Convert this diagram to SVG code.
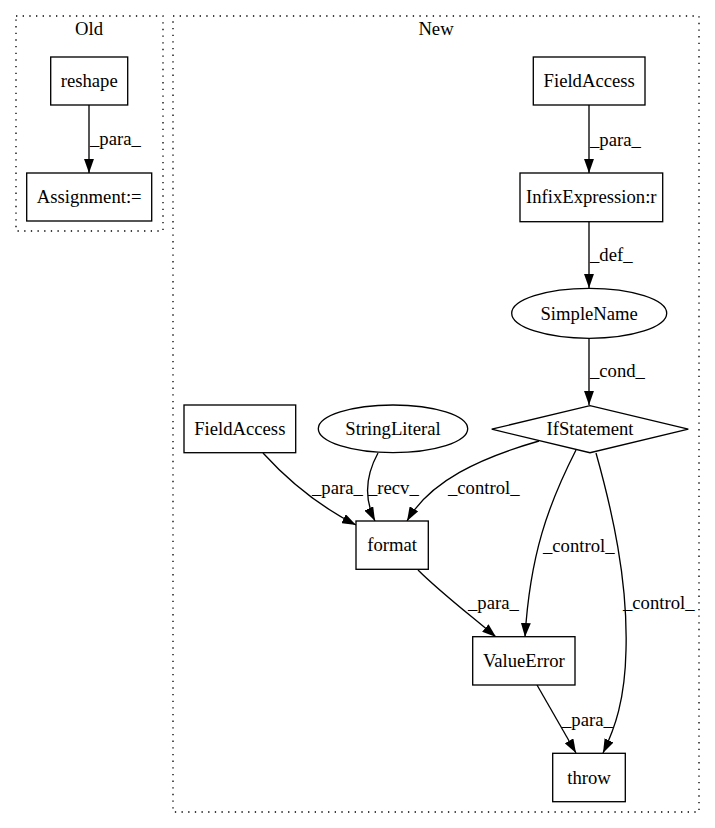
<svg xmlns="http://www.w3.org/2000/svg" width="715" height="828" viewBox="0 0 715 828">
<defs>
<marker id="arr" markerUnits="userSpaceOnUse" markerWidth="14" markerHeight="10" viewBox="0 0 13.3 9.4" refX="13.3" refY="4.7" orient="auto">
<path d="M0,0 L13.3,4.7 L0,9.4 z" fill="#000"/>
</marker>
</defs>
<style>
text{font-family:"Liberation Serif","Times New Roman",serif;font-size:18.67px;fill:#000}
.n{text-anchor:middle}
.box{fill:#fff;stroke:#000;stroke-width:1.33}
.cl{fill:none;stroke:#000;stroke-width:1.33;stroke-dasharray:1.33,5.33}
.e{fill:none;stroke:#000;stroke-width:1.33;marker-end:url(#arr)}
</style>
<rect width="715" height="828" fill="#fff"/>
<g id="cluster_old">
<rect class="cl" x="16" y="16" width="147" height="215"/>
<text class="n" x="89" y="35">Old</text>
</g>
<g id="cluster_new">
<rect class="cl" x="173" y="16" width="526" height="796"/>
<text class="n" x="436" y="35">New</text>
</g>
<g id="connectors">
<path class="e" d="M89,105 L89,173"/>
<text x="90" y="145">_para_</text>
<path class="e" d="M589,105 L589,173"/>
<text x="590" y="146">_para_</text>
<path class="e" d="M589,222 L589,288"/>
<text x="590" y="261">_def_</text>
<path class="e" d="M589,338 L589,405"/>
<text x="590" y="377">_cond_</text>
<path class="e" d="M263,453 C283,475 311,502 356,525"/>
<text x="312" y="494">_para_</text>
<path class="e" d="M378,453 C366,475 363,497 375,521"/>
<text x="368" y="494">_recv_</text>
<path class="e" d="M539,441 C480,458 430,481 407,521"/>
<text x="448" y="494">_control_</text>
<path class="e" d="M576,450 C548,505 530,555 525,637"/>
<text x="543" y="552">_control_</text>
<path class="e" d="M596,453 C612,510 628,580 626,650 C625,700 615,728 603,753"/>
<text x="623" y="609">_control_</text>
<path class="e" d="M418,570 C440,592 470,615 496,637"/>
<text x="468" y="609">_para_</text>
<path class="e" d="M537,685 L576,753"/>
<text x="562" y="726">_para_</text>
</g>
<g id="reshape">
<rect class="box" x="50.7" y="57" width="77" height="48"/>
<text class="n" x="89.2" y="87">reshape</text>
</g>
<g id="assignment">
<rect class="box" x="26.7" y="173" width="125" height="48"/>
<text class="n" x="89.2" y="203">Assignment:=</text>
</g>
<g id="fieldaccess_top">
<rect class="box" x="533.3" y="57" width="111.7" height="48"/>
<text class="n" x="589.2" y="87">FieldAccess</text>
</g>
<g id="infix">
<rect class="box" x="520" y="173" width="142.7" height="48.7"/>
<text class="n" x="591.3" y="203">InfixExpression:r</text>
</g>
<g id="simplename">
<ellipse class="box" cx="589.2" cy="313.3" rx="77.5" ry="25"/>
<text class="n" x="589.2" y="319.5">SimpleName</text>
</g>
<g id="ifstatement">
<polygon class="box" points="491.7,429.2 590,405.7 688.3,429.2 590,452.7"/>
<text class="n" x="590" y="435.3">IfStatement</text>
</g>
<g id="fieldaccess_left">
<rect class="box" x="184" y="405" width="111.7" height="47.7"/>
<text class="n" x="239.8" y="435">FieldAccess</text>
</g>
<g id="stringliteral">
<ellipse class="box" cx="393" cy="428.8" rx="74.7" ry="23.8"/>
<text class="n" x="393" y="435">StringLiteral</text>
</g>
<g id="format">
<rect class="box" x="356" y="521" width="72.3" height="48.3"/>
<text class="n" x="392.2" y="551">format</text>
</g>
<g id="valueerror">
<rect class="box" x="472.7" y="636.7" width="102.3" height="48.3"/>
<text class="n" x="523.8" y="667">ValueError</text>
</g>
<g id="throw">
<rect class="box" x="552.7" y="753.3" width="72.6" height="48.4"/>
<text class="n" x="589" y="783.5">throw</text>
</g>
</svg>
